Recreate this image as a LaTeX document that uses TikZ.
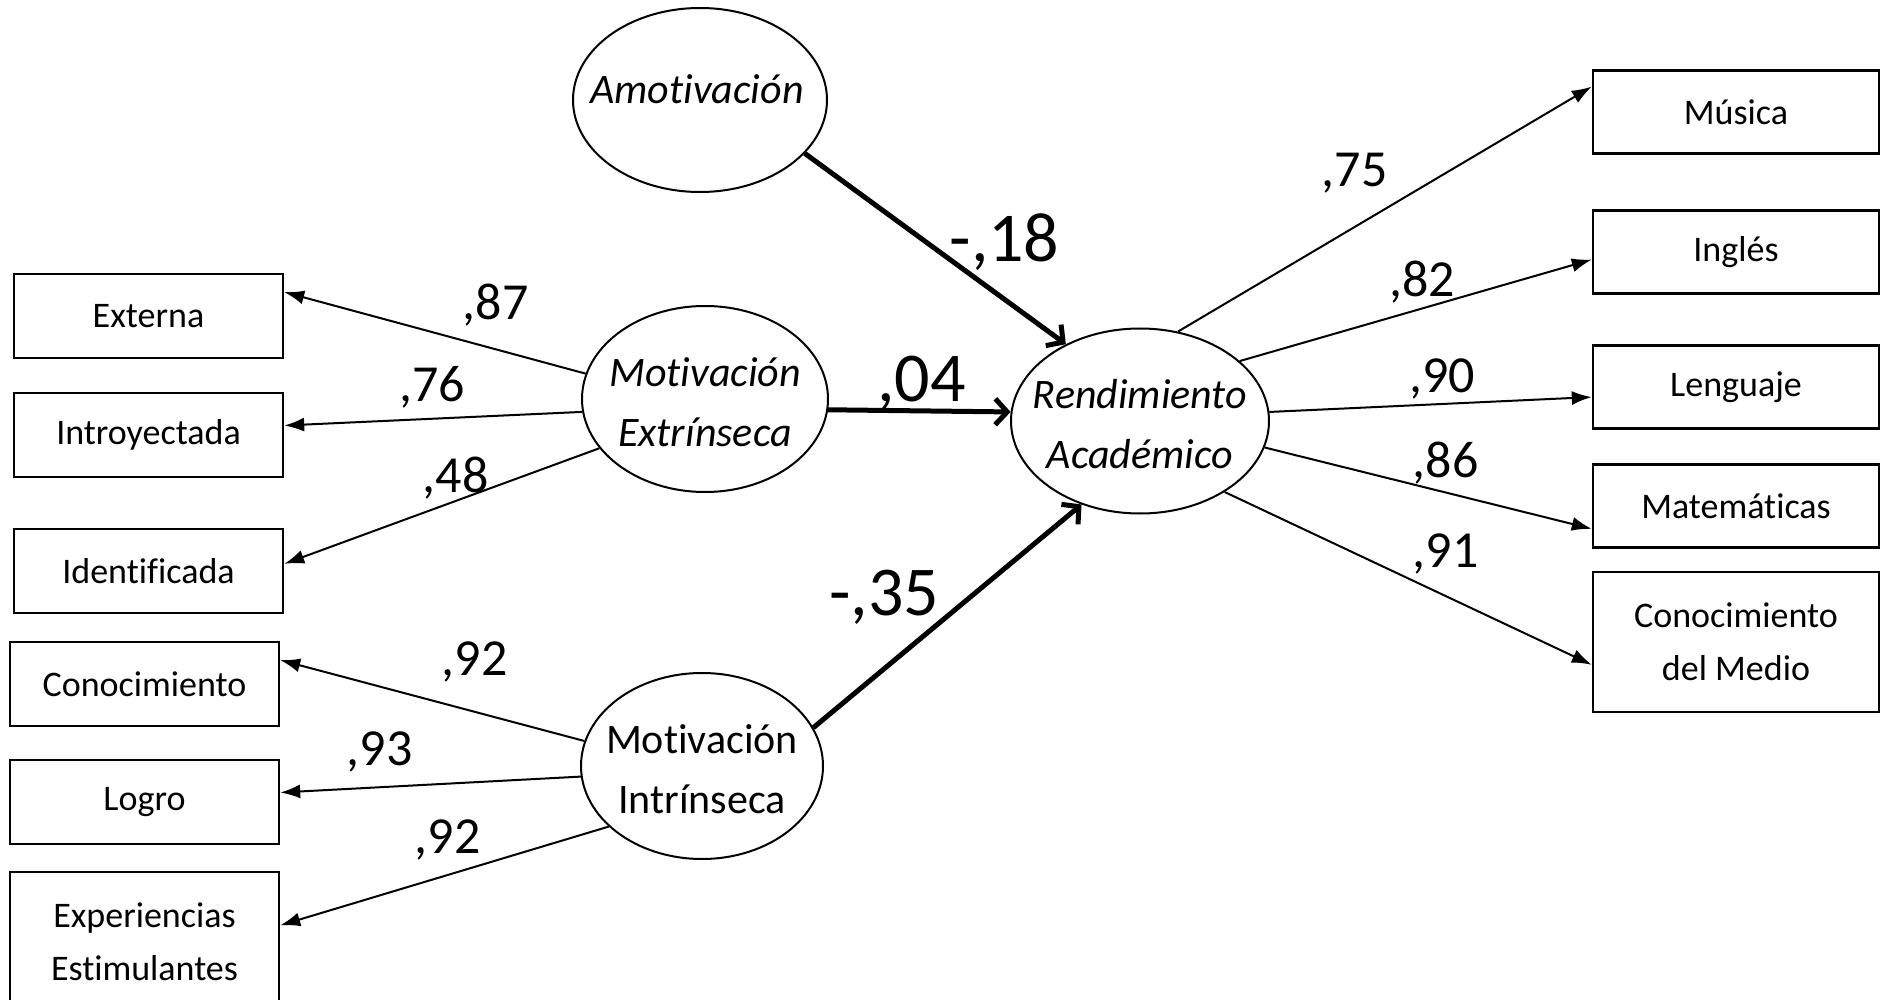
\documentclass[tikz,border=0pt]{standalone}
\usepackage{fontspec}
\setmainfont{Carlito}[Ligatures=NoCommon]
\usetikzlibrary{arrows.meta,shapes.geometric}
\begin{document}
\begin{tikzpicture}[x=1pt,y=-1pt,
  latent/.style={draw,line width=2pt,ellipse,inner sep=0pt},
  lattext/.style={inner sep=0pt,align=center,font=\fontsize{42}{60}\selectfont},
  obs/.style={draw,line width=2.4pt,rectangle,inner sep=0pt,align=center,
              font=\fontsize{36}{53}\selectfont},
  leftobs/.style={obs,minimum width=269pt,minimum height=84pt},
  rightobs/.style={obs,minimum width=286pt,minimum height=83pt},
  loadarrow/.style={-{Latex[length=20pt,width=14pt]},line width=2pt},
  regarrow/.style={-{Straight Barb[length=12pt,width=26pt]},line width=5pt},
  coef/.style={anchor=base,inner sep=0pt,font=\fontsize{52}{60}\selectfont},
  bigcoef/.style={anchor=base,inner sep=0pt,font=\fontsize{70}{80}\selectfont}]

\useasboundingbox[fill=white] (0,0) rectangle (1883,1000);

% latent factors
\node[latent,minimum width=254pt,minimum height=184pt] (amo) at (700,100) {};
\node[lattext,anchor=base] (amotxt) at (697,104) {\itshape Amotivación};
\node[latent,minimum width=246pt,minimum height=186pt] (ext) at (705,399) {};
\node[lattext] (exttxt) at (705,402) {\itshape Motivación\\\itshape Extrínseca};
\node[latent,minimum width=242pt,minimum height=186pt] (int) at (702,766) {};
\node[lattext] (inttxt) at (702,769) {Motivación\\Intrínseca};
\node[latent,minimum width=258pt,minimum height=185pt] (ren) at (1140,421) {};
\node[lattext] (rentxt) at (1140,424) {\itshape Rendimiento\\\itshape Académico};

% indicators on the left
\node[leftobs] (exte) at (148.5,316) {Externa};
\node[leftobs] (intro) at (148.5,435) {Introyectada};
\node[leftobs] (iden) at (148.5,571) {Identificada};
\node[leftobs] (cono) at (144.5,684) {Conocimiento};
\node[leftobs] (logro) at (144.5,802) {Logro};
\node[obs,minimum width=269pt,minimum height=140pt] (expe) at (144.5,942) {Experiencias\\Estimulantes};

% indicators on the right
\node[rightobs] (musi) at (1736,112) {Música};
\node[rightobs] (ingl) at (1736,252) {Inglés};
\node[rightobs] (leng) at (1736,387) {Lenguaje};
\node[rightobs] (mate) at (1736,506) {Matemáticas};
\node[obs,minimum width=286pt,minimum height=140pt] (medio) at (1736,642) {Conocimiento\\del Medio};

% loadings of the motivation factors
\draw[loadarrow] (ext.168.3) -- (exte.10.1);
\draw[loadarrow] (ext.186.5) -- (intro.4.7);
\draw[loadarrow] (ext.205.2) -- (iden.3.8);
\draw[loadarrow] (int.168.1) -- (cono.10.5);
\draw[loadarrow] (int.185.7) -- (logro.4.2);
\draw[loadarrow] (int.213.7) -- (expe.7.2);

% loadings of academic achievement
\draw[loadarrow] (ren.67.1) -- (musi.170);
\draw[loadarrow] (ren.31.4) -- (ingl.183.2);
\draw[loadarrow] (ren.4.8) -- (leng.184.4);
\draw[loadarrow] (ren.-12) -- (mate.189.1);
\draw[loadarrow] (ren.-40.5) -- (medio.189.1);

% structural paths
\draw[regarrow] (amo.-27.7) -- (ren.134.6);
\draw[regarrow] (ext.-5.8) -- (ren.176.5);
\draw[regarrow] (int.19.6) -- (ren.235.1);

% coefficients
\node[coef] (l87) at (495.5,320) {,87};
\node[coef] (l76) at (432,402) {,76};
\node[coef] (l48) at (455.5,492) {,48};
\node[coef] (l92a) at (474.5,675) {,92};
\node[coef] (l93) at (379.5,765) {,93};
\node[coef] (l92b) at (447.5,853) {,92};
\node[coef] (l75) at (1354.5,187) {,75};
\node[coef] (l82) at (1422,297) {,82};
\node[coef] (l90) at (1442,392) {,90};
\node[coef] (l86) at (1445.5,477) {,86};
\node[coef] (l91) at (1445.5,567) {,91};
\node[bigcoef] (b18) at (1004.5,262) {-,18};
\node[bigcoef] (b04) at (921.5,402) {,04};
\node[bigcoef] (b35) at (884,615) {-,35};
\end{tikzpicture}
\end{document}
